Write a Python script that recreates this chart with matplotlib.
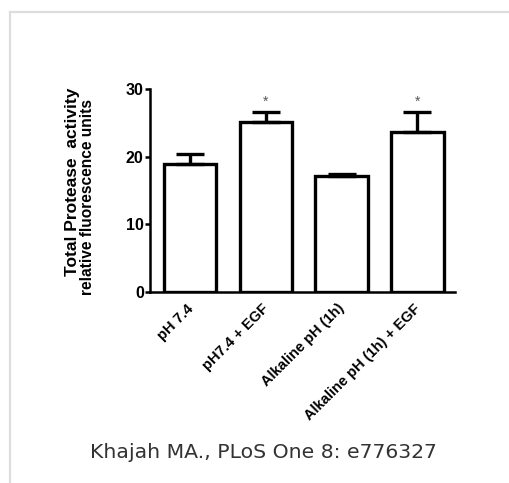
import matplotlib
matplotlib.use("Agg")
import matplotlib.pyplot as plt
from matplotlib.lines import Line2D
from matplotlib.transforms import ScaledTranslation

categories = ["pH 7.4", "pH7.4 + EGF", "Alkaline pH (1h)", "Alkaline pH (1h) + EGF"]
means = [18.9, 25.2, 17.1, 23.7]
errors = [1.5, 1.5, 0.4, 3.0]
significant = [False, True, False, True]
yticks = [0, 10, 20, 30]
ylabel_lines = ["Total Protease  activity", "relative fluorescence units"]
caption = "Khajah MA., PLoS One 8: e776327"

W, H = 510, 483
fig = plt.figure(figsize=(W / 100, H / 100), dpi=100)
fig.patch.set_facecolor("white")

# light gray frame (left and top)
fig.add_artist(Line2D([10 / W, 10 / W], [0, 1 - 12 / H], transform=fig.transFigure,
                      color="#dddddd", lw=1.6))
fig.add_artist(Line2D([10 / W, 1], [1 - 12 / H, 1 - 12 / H], transform=fig.transFigure,
                      color="#dddddd", lw=1.6))

ax = fig.add_axes([150 / W, 1 - 291.7 / H, (455 - 150) / W, (291.7 - 89.3) / H])
x = list(range(len(categories)))
ax.bar(x, means, width=0.69, color="white", edgecolor="black", linewidth=2.4, zorder=2)
ax.errorbar(x, means, yerr=[[0] * len(errors), errors], fmt="none", ecolor="black",
            elinewidth=2.4, capsize=10, capthick=2.4, zorder=3)
for xi, m, e, s in zip(x, means, errors, significant):
    if s:
        ax.text(xi, m + e + 1.45, "*", ha="center", va="center", fontsize=10,
                color="#555555", family="Liberation Sans")

ax.set_xlim(-0.528, 3.496)
ax.set_ylim(0, 30)
ax.set_yticks(yticks)
ax.set_yticklabels([str(t) for t in yticks], fontsize=11.5, fontweight="bold",
                   family="Liberation Sans")
ax.set_xticks(x)
ax.set_xticklabels(categories, rotation=45, ha="right", va="top", rotation_mode="anchor",
                   fontsize=10.5, fontweight="bold", family="Liberation Sans")
ax.tick_params(axis="x", length=0, pad=7)
offset = ScaledTranslation(-4 / 100, 0, fig.dpi_scale_trans)
for lbl in ax.get_xticklabels():
    lbl.set_transform(lbl.get_transform() + offset)
ax.tick_params(axis="y", length=3.5, width=1.8, pad=1)
for side in ["top", "right"]:
    ax.spines[side].set_visible(False)
ax.spines["left"].set_linewidth(1.8)
ax.spines["bottom"].set_linewidth(1.8)

fig.text(73 / W, 1 - 182 / H, ylabel_lines[0], rotation=90, ha="center", va="center",
         fontsize=12.5, fontweight="bold", family="Liberation Sans")
fig.text(88 / W, 1 - 197 / H, ylabel_lines[1], rotation=90, ha="center", va="center",
         fontsize=11.2, fontweight="bold", family="Liberation Sans")

fig.text(263 / W, 1 - 453 / H, caption, ha="center", va="center", fontsize=14.7,
         color="#333333", family="DejaVu Sans")

fig.savefig("out.png", dpi=100, facecolor="white")
